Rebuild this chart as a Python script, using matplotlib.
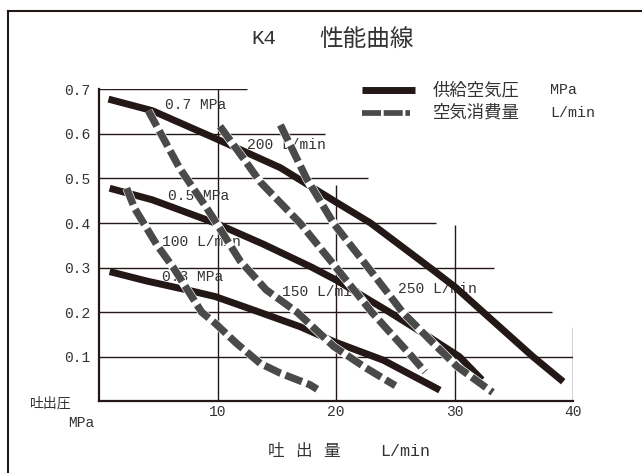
import matplotlib
matplotlib.use("Agg")
import matplotlib.pyplot as plt
from matplotlib.lines import Line2D

MONO = ['Liberation Mono', 'Noto Sans CJK JP']
CJK = ['Noto Sans CJK JP', 'DejaVu Sans']
plt.rcParams['font.family'] = MONO

# 供給空気圧 curves (MPa), x = 吐出量 L/min, y = 吐出圧 MPa
p07_x = [0.8, 4.5, 9.8, 15.3, 19.8, 22.9, 25.4, 27.9, 30.1, 32.4, 34.5, 36.6, 39.15]
p07_y = [0.678, 0.652, 0.59, 0.524, 0.45, 0.4, 0.35, 0.3, 0.255, 0.2, 0.15, 0.1, 0.044]
p05_x = [0.9, 4.5, 9.8, 13.9, 18.0, 20.0, 22.3, 24.5, 27.5, 30.4, 32.3]
p05_y = [0.478, 0.452, 0.4, 0.352, 0.3, 0.272, 0.235, 0.2, 0.15, 0.1, 0.048]
p03_x = [0.9, 4.0, 7.4, 9.8, 13.0, 17.0, 19.8, 24.0, 28.75]
p03_y = [0.291, 0.27, 0.25, 0.235, 0.205, 0.167, 0.134, 0.092, 0.025]

# 空気消費量 curves (L/min)
q100_x = [2.33, 3.0, 4.9, 6.27, 8.66, 9.8, 11.6, 13.6, 15.3, 17.8, 18.4]
q100_y = [0.478, 0.433, 0.35, 0.3, 0.2, 0.175, 0.13, 0.085, 0.063, 0.037, 0.027]
q150_x = [4.16, 6.8, 9.1, 9.9, 11.9, 14.1, 16.7, 19.8, 22.5, 25.0]
q150_y = [0.652, 0.523, 0.433, 0.4, 0.315, 0.25, 0.2, 0.123, 0.075, 0.035]
q200_x = [10.2, 12.45, 13.6, 16.95, 20.0, 23.0, 26.4, 27.5]
q200_y = [0.617, 0.535, 0.492, 0.4, 0.3, 0.2, 0.1, 0.066]
q250_x = [15.3, 17.5, 19.84, 22.7, 25.6, 28.2, 30.2, 33.2]
q250_y = [0.62, 0.5, 0.397, 0.3, 0.2, 0.13, 0.078, 0.02]

solid_curves = [(p07_x, p07_y), (p05_x, p05_y), (p03_x, p03_y)]
dashed_curves = [(q100_x, q100_y), (q150_x, q150_y), (q200_x, q200_y), (q250_x, q250_y)]

# partial grid (hand drawn style): horizontal lines end at different x,
# vertical lines stop at different heights
grid_y = [0.1, 0.2, 0.3, 0.4, 0.5, 0.6, 0.7]
grid_y_xend = [40, 38.2, 33.3, 28.4, 22.7, 19.1, 12.45]
grid_x = [10, 20, 30, 40]
grid_x_ytop = [0.7, 0.485, 0.396, 0.167]

x_ticks = [10, 20, 30, 40]
x_tick_labels = ['10', '20', '30', '40']
y_ticks = [0.1, 0.2, 0.3, 0.4, 0.5, 0.6, 0.7]
y_tick_labels = ['0.1', '0.2', '0.3', '0.4', '0.5', '0.6', '0.7']

curve_labels = ['0.7 MPa', '200 L/min', '0.5 MPa', '100 L/min',
                '0.3 MPa', '150 L/min', '250 L/min']
label_pos = [(5.56, 0.664), (12.45, 0.575), (5.85, 0.461), (5.29, 0.358),
             (5.29, 0.278), (15.4, 0.246), (25.2, 0.252)]

ink = '#231815'
gray = '#4a4a4a'
txt = '#333333'

W, H = 642, 473
def fx(px):
    return px / W
def fy(py):
    return 1 - py / H

fig = plt.figure(figsize=(6.42, 4.73), dpi=100)
ax = fig.add_axes([fx(99), fy(401.3), (573.3 - 99) / W, (401.3 - 89.3) / H])
ax.set_xlim(0, 40)
ax.set_ylim(0, 0.7)

for s in ['top', 'right']:
    ax.spines[s].set_visible(False)
for s in ['left', 'bottom']:
    ax.spines[s].set_linewidth(1.6)
    ax.spines[s].set_color(ink)

ax.hlines(grid_y, 0, grid_y_xend, color=ink, lw=1.0, zorder=1)
ax.vlines(grid_x, 0, grid_x_ytop, color=ink, lw=1.0, zorder=1)

ax.set_xticks(x_ticks)
ax.set_xticklabels(x_tick_labels)
ax.set_yticks(y_ticks)
ax.set_yticklabels(y_tick_labels)
ax.tick_params(axis='x', length=0, pad=2.5, labelsize=10.5, labelcolor=txt)
ax.tick_params(axis='y', length=0, pad=6.5, labelsize=10.5, labelcolor=txt)

for (t, (lx, ly)) in zip(curve_labels, label_pos):
    ax.text(lx, ly, t, ha='left', va='center', fontsize=10.5, color=txt, zorder=2)

for xs, ys in solid_curves:
    ax.plot(xs, ys, color=ink, lw=5.0, solid_capstyle='butt',
            solid_joinstyle='round', zorder=3, clip_on=False)

for xs, ys in dashed_curves:
    ax.plot(xs, ys, color='white', lw=6.2, solid_capstyle='butt',
            solid_joinstyle='round', zorder=4, clip_on=False)
    ax.plot(xs, ys, color=gray, lw=5.3, dashes=(2.4, 0.7),
            dash_capstyle='butt', dash_joinstyle='round', zorder=5, clip_on=False)

# title
fig.text(fx(251), fy(39), 'K4', ha='left', va='center', fontsize=15, color=txt, family=MONO)
fig.text(fx(319), fy(39), '性能曲線', ha='left', va='center', fontsize=17, color=txt, family=CJK)

# legend
fig.add_artist(Line2D([fx(362), fx(415)], [fy(90), fy(90)], color=ink, lw=5.0,
                      solid_capstyle='butt'))
fig.add_artist(Line2D([fx(362), fx(410)], [fy(113), fy(113)], color=gray, lw=4.1,
                      dashes=(3.34, 0.47), dash_capstyle='butt'))
fig.text(fx(433), fy(90), '供給空気圧', ha='left', va='center', fontsize=12.5, color=txt, family=CJK)
fig.text(fx(433), fy(113), '空気消費量', ha='left', va='center', fontsize=12.5, color=txt, family=CJK)
fig.text(fx(550), fy(90), 'MPa', ha='left', va='center', fontsize=10.8, color=txt, family=MONO)
fig.text(fx(550), fy(113), 'L/min', ha='left', va='center', fontsize=10.8, color=txt, family=MONO)

# axis labels
fig.text(fx(50.5), fy(404), '吐出圧', ha='center', va='center', fontsize=10, color=txt, family=CJK)
fig.text(fx(81.5), fy(422.7), 'MPa', ha='center', va='center', fontsize=10.5, color=txt, family=MONO)
for ch, cx in zip(['吐', '出', '量'], [276.5, 303.5, 331.5]):
    fig.text(fx(cx), fy(451), ch, ha='center', va='center', fontsize=12, color=txt, family=CJK)
fig.text(fx(380), fy(451), 'L/min', ha='left', va='center', fontsize=12, color=txt, family=MONO)

# outer frame (top and left only)
fig.add_artist(Line2D([fx(8.3), fx(642)], [fy(10.7), fy(10.7)], color=ink, lw=1.5))
fig.add_artist(Line2D([fx(8.3), fx(8.3)], [fy(10.7), fy(473)], color=ink, lw=1.5))

fig.savefig('out.png', dpi=100)
